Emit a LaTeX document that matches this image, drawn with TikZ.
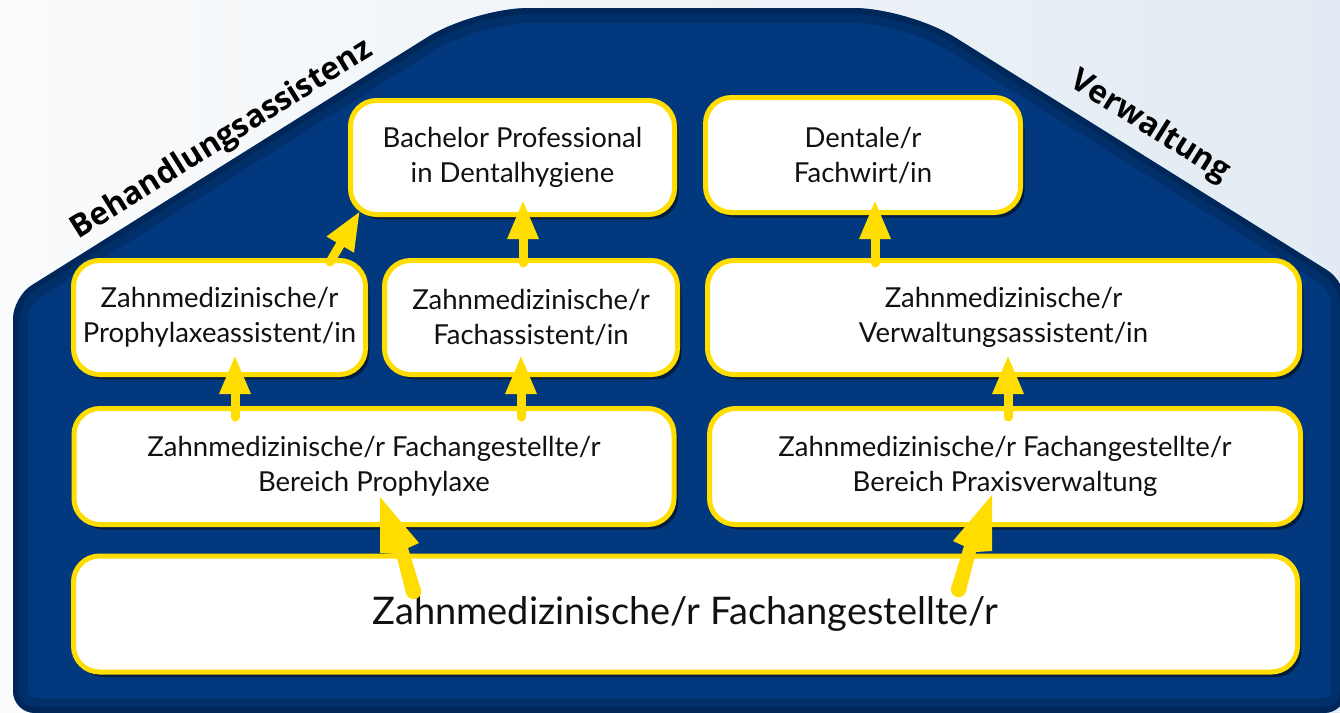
\documentclass[tikz,border=0pt]{standalone}
\usepackage{fontspec}
\setmainfont{Lato}
\newfontfamily\roofont{Open Sans}
\usetikzlibrary{arrows.meta,shadows,calc}
\definecolor{navy}{HTML}{02397E}
\definecolor{navydark}{HTML}{00193F}
\definecolor{gold}{HTML}{FFDD00}
\definecolor{bgl}{HTML}{FAFBFC}
\definecolor{bgr}{HTML}{E2EBF3}
\definecolor{ink}{HTML}{111111}
\begin{document}
\begin{tikzpicture}[x={(1pt,0)}, y={(0,-1pt)},
  cbox/.style={draw=gold, line width=5pt, fill=white, rounded corners=26pt, inner sep=0pt,
    align=center, text=ink, font=\fontsize{27.5}{35}\selectfont,
    drop shadow={shadow xshift=4pt, shadow yshift=-5pt, opacity=0.5, fill=black}},
  uparr/.style={draw=gold, line width=9pt, line cap=round, -{Triangle[width=29pt,length=39pt]}},
  rooflbl/.style={font=\roofont\bfseries\fontsize{31.5}{33}\selectfont, text=black, inner sep=0pt},
]
\useasboundingbox (0,0) rectangle (1340,712);
\clip (0,0) rectangle (1340,712);
\shade[left color=bgl, right color=bgr] (0,0) rectangle (1340,712);

% house-shaped blue field
\fill[navy] (600,713) [rounded corners=22pt]-- (13,713) -- (13,297) [rounded corners=55pt]-- (474,8) -- (908,8) [rounded corners=22pt]-- (1346,282) -- (1346,713) -- cycle;
\begin{scope}
  \clip (600,713) [rounded corners=22pt]-- (13,713) -- (13,297) [rounded corners=55pt]-- (474,8) -- (908,8) [rounded corners=22pt]-- (1346,282) -- (1346,713) -- cycle;
  \draw[navydark, line width=30pt, opacity=0.30] (600,713) [rounded corners=22pt]-- (13,713) -- (13,297) [rounded corners=55pt]-- (474,8) -- (908,8) [rounded corners=22pt]-- (1346,282) -- (1346,713) -- cycle;
  \draw[navydark, line width=12pt, opacity=0.35] (600,713) [rounded corners=22pt]-- (13,713) -- (13,297) [rounded corners=55pt]-- (474,8) -- (908,8) [rounded corners=22pt]-- (1346,282) -- (1346,713) -- cycle;
\end{scope}

% roof labels
\node[rooflbl, rotate=32] (lb) at (222,140) {Behandlungsassistenz};
\node[rooflbl, rotate=-32] (lv) at (1150,127) {Verwaltung};

% boxes
\node[cbox, minimum width=324pt, minimum height=114pt] (bach) at (512.5,157.5) {Bachelor Professional\\in Dentalhygiene};
\node[cbox, minimum width=315pt, minimum height=115pt] (dent) at (863,155) {Dentale/r\\Fachwirt/in};
\node[cbox, minimum width=292pt, minimum height=114pt] (pa) at (219.5,317.5) {Zahnmedizinische/r\\Prophylaxeassistent/in};
\node[cbox, minimum width=293pt, minimum height=114pt] (fa) at (531,317.5) {Zahnmedizinische/r\\Fachassistent/in};
\node[cbox, minimum width=592pt, minimum height=114pt] (va) at (1003.5,317.5) {Zahnmedizinische/r\\Verwaltungsassistent/in};
\node[cbox, minimum width=600pt, minimum height=116pt] (fap) at (374,466.5) {Zahnmedizinische/r Fachangestellte/r\\Bereich Prophylaxe};
\node[cbox, minimum width=591pt, minimum height=116pt] (fav) at (1005,466.5) {Zahnmedizinische/r Fachangestellte/r\\Bereich Praxisverwaltung};
\node[cbox, minimum width=1224pt, minimum height=116pt, font=\fontsize{38}{42}\selectfont] (zfa) at (685.5,614) {Zahnmedizinische/r Fachangestellte/r};

% vertical arrows
\draw[uparr, shorten <=-11pt, shorten >=-22pt] ([xshift=-139pt]fap.north) -- ([xshift=15.5pt]pa.south);
\draw[uparr, shorten <=-11pt, shorten >=-22pt] ([xshift=147pt]fap.north) -- ([xshift=-10pt]fa.south);
\draw[uparr, shorten <=-5pt, shorten >=-17pt] ([xshift=-8pt]fa.north) -- ([xshift=10.5pt]bach.south);
\draw[uparr, shorten <=-11pt, shorten >=-22pt] ([xshift=3pt]fav.north) -- ([xshift=4.5pt]va.south);
\draw[uparr, shorten <=-5pt, shorten >=-15pt] ([xshift=-128.5pt]va.north) -- ([xshift=12pt]dent.south);
\draw[uparr] ([xshift=-38pt,yshift=-4pt]pa.north east) -- ([xshift=12pt,yshift=6pt]bach.south west);

% big arrows from the bottom box
\coordinate (tl) at ($(fap.south)+(6,-30)$);
\coordinate (tr) at ($(fav.south)+(-13,-32)$);
\begin{scope}[shift={(tl)}]
  \fill[gold] (0,0) -- (39,46) -- (28,51) -- (41,93) -- (26,96) -- (16,57) -- (0,56) -- cycle;
  \fill[gold] (33.5,94.5) circle (7.7pt);
\end{scope}
\begin{scope}[shift={(tr)}, xscale=-1]
  \fill[gold] (0,0) -- (39,46) -- (28,51) -- (41,93) -- (26,96) -- (16,57) -- (0,56) -- cycle;
  \fill[gold] (33.5,94.5) circle (7.7pt);
\end{scope}
\end{tikzpicture}
\end{document}
